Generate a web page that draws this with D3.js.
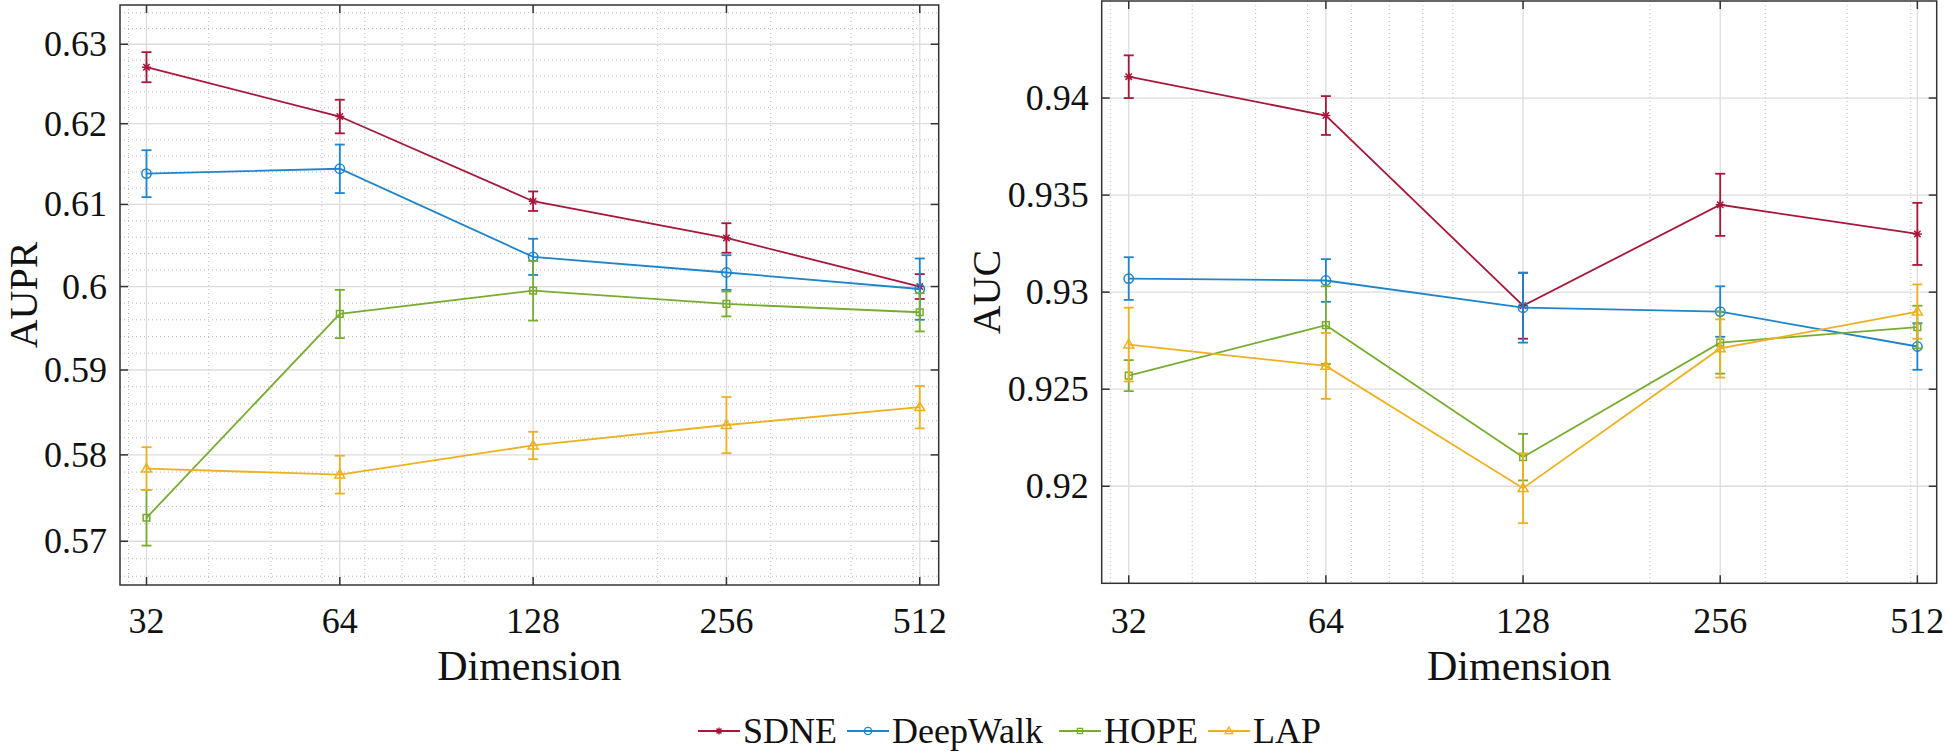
<!DOCTYPE html>
<html>
<head>
<meta charset="utf-8">
<script src="https://cdn.jsdelivr.net/npm/d3@7"></script>
<style>
  html, body { margin: 0; padding: 0; background: #fff; }
  svg { display: block; }
  svg text, .serif { font-family: "Liberation Serif", "Times New Roman", Times, serif !important; }
</style>
</head>
<body>
<svg id="chart" width="1946" height="753"></svg>
<script>
// ---------- data ----------
const dims = [32, 64, 128, 256, 512];
const seriesNames = ["SDNE", "DeepWalk", "HOPE", "LAP"];
const seriesColors = ["#A8173A", "#1E84CC", "#77AC30", "#EDB120"];
const seriesMarkers = ["star", "circle", "square", "triangle"];

// AUPR (left panel)
const auprSDNE     = [0.6271, 0.6209, 0.6104, 0.6059, 0.6000];
const auprSDNEErr  = [0.0019, 0.0021, 0.0012, 0.0018, 0.0015];
const auprDeepWalk    = [0.6138, 0.6144, 0.6036, 0.6017, 0.5997];
const auprDeepWalkErr = [0.0029, 0.0030, 0.0022, 0.0021, 0.0037];
const auprHOPE     = [0.5727, 0.5967, 0.5995, 0.5979, 0.5969];
const auprHOPEErr  = [0.0032, 0.0029, 0.0036, 0.0015, 0.0023];
const auprLAP      = [0.5784, 0.5777, 0.5811, 0.5835, 0.5856];
const auprLAPErr   = [0.0025, 0.0022, 0.0016, 0.0033, 0.0025];

// AUC (right panel)
const aucSDNE     = [0.9411, 0.9391, 0.9293, 0.9345, 0.9330];
const aucSDNEErr  = [0.0011, 0.0010, 0.0017, 0.0016, 0.0016];
const aucDeepWalk    = [0.9307, 0.9306, 0.9292, 0.9290, 0.9272];
const aucDeepWalkErr = [0.0011, 0.0011, 0.0018, 0.0013, 0.0012];
const aucHOPE     = [0.9257, 0.9283, 0.9215, 0.9274, 0.9282];
const aucHOPEErr  = [0.0008, 0.0020, 0.0012, 0.0016, 0.0011];
const aucLAP      = [0.9273, 0.9262, 0.9199, 0.9271, 0.9290];
const aucLAPErr   = [0.0019, 0.0017, 0.0018, 0.0015, 0.0014];

// ticks
const xTickLabels = ["32", "64", "128", "256", "512"];
const xMinorTicks = [30, 40, 50, 60, 70, 80, 90, 100, 200, 300, 400, 500];
const auprTicks = [0.57, 0.58, 0.59, 0.6, 0.61, 0.62, 0.63];
const auprTickLabels = ["0.57", "0.58", "0.59", "0.6", "0.61", "0.62", "0.63"];
const aucTicks = [0.92, 0.925, 0.93, 0.935, 0.94];
const aucTickLabels = ["0.92", "0.925", "0.93", "0.935", "0.94"];

const FONT = "Liberation Serif";
const svg = d3.select("#chart");

function txt(sel, size) {
  return sel.attr("class", "serif").attr("font-family", FONT)
    .style("font-family", "'Liberation Serif', 'Times New Roman', serif", "important")
    .attr("font-size", size).attr("fill", "#111");
}

function markerPath(type, s) {
  if (type === "circle") return d3.symbol(d3.symbolCircle, s * s * 0.85)();
  if (type === "square") return d3.symbol(d3.symbolSquare, s * s * 0.55)();
  if (type === "triangle") {
    const h = s * 0.95, w = s * 1.1;
    return `M0,${-h * 0.6}L${w / 2},${h * 0.4}L${-w / 2},${h * 0.4}Z`;
  }
  const r = s * 0.5, d = r * 0.7071;
  return `M${-r},0L${r},0M0,${-r}L0,${r}M${-d},${-d}L${d},${d}M${-d},${d}L${d},${-d}`;
}

function drawPanel(opts) {
  const { x0, x1, y0, y1, yScale, yTicks, yTickLabels, yMinor, yLabel, yLabelX, series } = opts;
  const g = svg.append("g");
  const x = d3.scaleLog().domain([29.1, 548]).range([x0, x1]);
  const y = yScale.range([y1, y0]);

  g.selectAll(".xminor").data(xMinorTicks).join("line")
    .attr("x1", d => x(d)).attr("x2", d => x(d)).attr("y1", y0).attr("y2", y1)
    .attr("stroke", "#b8b8b8").attr("stroke-width", 1).attr("stroke-dasharray", "1,3");
  g.selectAll(".yminor").data(yMinor).join("line")
    .attr("x1", x0).attr("x2", x1).attr("y1", d => y(d)).attr("y2", d => y(d))
    .attr("stroke", "#b8b8b8").attr("stroke-width", 1).attr("stroke-dasharray", "1,3");
  g.selectAll(".xmajor").data(dims).join("line")
    .attr("x1", d => x(d)).attr("x2", d => x(d)).attr("y1", y0).attr("y2", y1)
    .attr("stroke", "#dcdcdc").attr("stroke-width", 1.3);
  g.selectAll(".ymajor").data(yTicks).join("line")
    .attr("x1", x0).attr("x2", x1).attr("y1", d => y(d)).attr("y2", d => y(d))
    .attr("stroke", "#dcdcdc").attr("stroke-width", 1.3);

  series.forEach((s, i) => {
    const col = seriesColors[i];
    const sg = g.append("g");
    const pts = dims.map((d, k) => ({ d, v: s.v[k], e: s.e[k] }));
    pts.forEach(p => {
      const xx = x(p.d), yt = y(p.v + p.e), yb = y(p.v - p.e);
      sg.append("line").attr("x1", xx).attr("x2", xx).attr("y1", yt).attr("y2", yb)
        .attr("stroke", col).attr("stroke-width", 1.8);
      [yt, yb].forEach(yy => sg.append("line").attr("x1", xx - 5).attr("x2", xx + 5)
        .attr("y1", yy).attr("y2", yy).attr("stroke", col).attr("stroke-width", 1.8));
    });
    sg.append("path").datum(pts)
      .attr("d", d3.line().x(p => x(p.d)).y(p => y(p.v)))
      .attr("fill", "none").attr("stroke", col).attr("stroke-width", 1.8);
    pts.forEach(p => {
      sg.append("path").attr("d", markerPath(seriesMarkers[i], 9))
        .attr("transform", `translate(${x(p.d)},${y(p.v)})`)
        .attr("fill", "none").attr("stroke", col).attr("stroke-width", 1.5);
    });
  });

  g.append("rect").attr("x", x0).attr("y", y0).attr("width", x1 - x0).attr("height", y1 - y0)
    .attr("fill", "none").attr("stroke", "#333").attr("stroke-width", 1.5);
  const tl = 8;
  dims.forEach(d => {
    g.append("line").attr("x1", x(d)).attr("x2", x(d)).attr("y1", y1).attr("y2", y1 - tl).attr("stroke", "#333").attr("stroke-width", 1.5);
    g.append("line").attr("x1", x(d)).attr("x2", x(d)).attr("y1", y0).attr("y2", y0 + tl).attr("stroke", "#333").attr("stroke-width", 1.5);
  });
  yTicks.forEach(v => {
    g.append("line").attr("x1", x0).attr("x2", x0 + tl).attr("y1", y(v)).attr("y2", y(v)).attr("stroke", "#333").attr("stroke-width", 1.5);
    g.append("line").attr("x1", x1).attr("x2", x1 - tl).attr("y1", y(v)).attr("y2", y(v)).attr("stroke", "#333").attr("stroke-width", 1.5);
  });

  dims.forEach((d, k) => {
    txt(g.append("text"), 36).attr("x", x(d)).attr("y", 633).attr("text-anchor", "middle")
      .text(xTickLabels[k]);
  });
  yTicks.forEach((v, k) => {
    txt(g.append("text"), 36).attr("x", x0 - 13).attr("y", y(v) + 12).attr("text-anchor", "end")
      .text(yTickLabels[k]);
  });

  txt(g.append("text"), 42).attr("x", (x0 + x1) / 2).attr("y", 680).attr("text-anchor", "middle")
    .text("Dimension");
  txt(g.append("text"), 40).attr("transform", `translate(${yLabelX},${(y0 + y1) / 2}) rotate(-90)`)
    .attr("text-anchor", "middle").text(yLabel);
}

const auprMinor = d3.range(566, 635, 2).map(v => v / 1000).filter(v => !auprTicks.some(t => Math.abs(t - v) < 1e-6));

drawPanel({
  x0: 120, x1: 938.7, y0: 5, y1: 585,
  yScale: d3.scaleLog().domain([0.565, 0.635]),
  yTicks: auprTicks, yTickLabels: auprTickLabels, yMinor: auprMinor,
  yLabel: "AUPR", yLabelX: 37,
  series: [
    { v: auprSDNE, e: auprSDNEErr },
    { v: auprDeepWalk, e: auprDeepWalkErr },
    { v: auprHOPE, e: auprHOPEErr },
    { v: auprLAP, e: auprLAPErr }
  ]
});

drawPanel({
  x0: 1101.7, x1: 1936.7, y0: 1, y1: 583.3,
  yScale: d3.scaleLinear().domain([0.915, 0.945]),
  yTicks: aucTicks, yTickLabels: aucTickLabels, yMinor: [],
  yLabel: "AUC", yLabelX: 1000,
  series: [
    { v: aucSDNE, e: aucSDNEErr },
    { v: aucDeepWalk, e: aucDeepWalkErr },
    { v: aucHOPE, e: aucHOPEErr },
    { v: aucLAP, e: aucLAPErr }
  ]
});

const legendStarts = [698, 847, 1059, 1208];
const lg = svg.append("g");
seriesNames.forEach((name, i) => {
  const col = seriesColors[i];
  const lx = legendStarts[i];
  lg.append("line").attr("x1", lx).attr("x2", lx + 42).attr("y1", 731).attr("y2", 731)
    .attr("stroke", col).attr("stroke-width", 1.8);
  lg.append("path").attr("d", markerPath(seriesMarkers[i], 7))
    .attr("transform", `translate(${lx + 21},731)`)
    .attr("fill", "none").attr("stroke", col).attr("stroke-width", 1.4);
  txt(lg.append("text"), 36).attr("x", lx + 45).attr("y", 743).text(name);
});
</script>
</body>
</html>
